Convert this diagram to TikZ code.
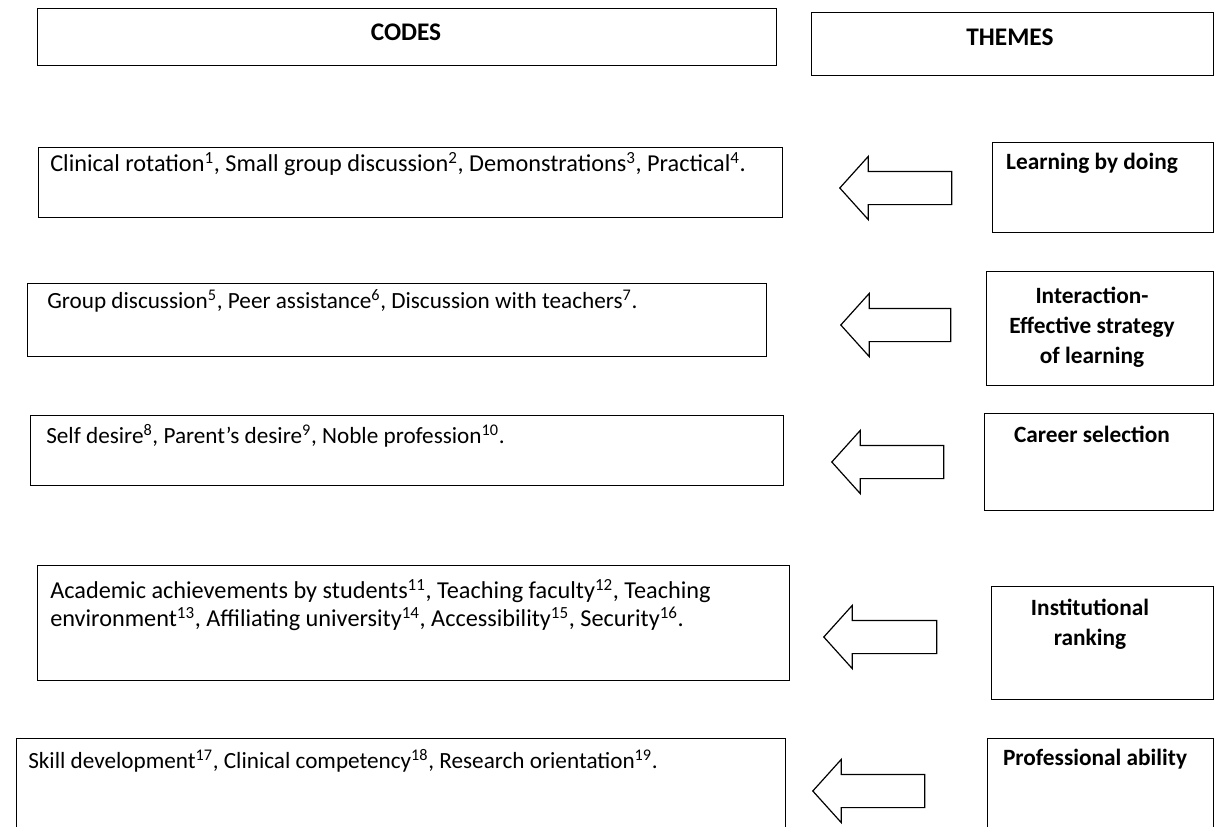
\documentclass[tikz,border=0pt]{standalone}
\usepackage{fontspec}
\setmainfont{Carlito}
\usetikzlibrary{shapes.arrows,positioning}
\newdimen\pxu
\pxu=0.75pt
\tikzset{
    box/.style ={
        draw=black,
        line width=0.9pt,
        anchor=north west,
        inner sep=0pt
    },
    codetext/.style ={
        anchor=west,
        align=left,
        inner sep=0pt,
        font=\fontsize{18.2}{21}\selectfont
    },
    smallcode/.style ={
        codetext,
        font=\fontsize{17.4}{21}\selectfont
    },
    themetext/.style ={
        align=center,
        inner sep=0pt,
        font=\fontsize{17.5}{22.5}\selectfont\bfseries
    },
    headtext/.style ={
        inner sep=0pt,
        font=\fontsize{19}{23}\selectfont\bfseries
    },
    leftarrow/.style ={
        shape=single arrow,
        draw=black,
        line width=0.9pt,
        shape border rotate=180,
        anchor=tip,
        inner xsep=0pt,
        inner ysep=16\pxu,
        single arrow head extend=15\pxu,
        single arrow tip angle=96
    }
}

\begin{document}
\begin{tikzpicture}[x=1\pxu,y=-1\pxu]
    \useasboundingbox (0,0) rectangle (1214,826);
    % headers
    \node[box, minimum width=739\pxu, minimum height=57\pxu] (codes) at (37,8) {};
    \node[headtext] (codeslbl) at (406,32) {CODES};
    \node[box, minimum width=402\pxu, minimum height=63\pxu] (themes) at (811,12) {};
    \node[headtext] (themeslbl) at (1010,37) {THEMES};
    % codes
    \node[box, minimum width=744\pxu, minimum height=70\pxu] (c1) at (38,147) {};
    \node[codetext] (c1t) at (50,164) {Clinical rotation\textsuperscript{1}, Small group discussion\textsuperscript{2}, Demonstrations\textsuperscript{3}, Practical\textsuperscript{4}.};
    \node[box, minimum width=739\pxu, minimum height=73\pxu] (c2) at (27,283) {};
    \node[smallcode] (c2t) at (47,301) {Group discussion\textsuperscript{5}, Peer assistance\textsuperscript{6}, Discussion with teachers\textsuperscript{7}.};
    \node[box, minimum width=753\pxu, minimum height=70\pxu] (c3) at (30,415) {};
    \node[smallcode] (c3t) at (46,436) {Self desire\textsuperscript{8}, Parent’s desire\textsuperscript{9}, Noble profession\textsuperscript{10}.};
    \node[box, minimum width=752\pxu, minimum height=115\pxu] (c4) at (37,565) {};
    \node[codetext] (c4t) at (50,605) {Academic achievements by students\textsuperscript{11}, Teaching faculty\textsuperscript{12}, Teaching\\environment\textsuperscript{13}, Affiliating university\textsuperscript{14}, Accessibility\textsuperscript{15}, Security\textsuperscript{16}.};
    \node[box, minimum width=769\pxu, minimum height=110\pxu] (c5) at (16,738) {};
    \node[smallcode] (c5t) at (28,761) {Skill development\textsuperscript{17}, Clinical competency\textsuperscript{18}, Research orientation\textsuperscript{19}.};
    % arrows
    \node[leftarrow, minimum height=112\pxu] (a1) at (839,188) {};
    \node[leftarrow, minimum height=110\pxu] (a2) at (840,325) {};
    \node[leftarrow, minimum height=112\pxu] (a3) at (831,462) {};
    \node[leftarrow, minimum height=113\pxu] (a4) at (823,637) {};
    \node[leftarrow, minimum height=112\pxu] (a5) at (812,791) {};
    % themes
    \node[box, minimum width=221\pxu, minimum height=90\pxu] (t1) at (992,142) {};
    \node[themetext] (t1t) at (1092,163) {Learning by doing};
    \node[box, minimum width=227\pxu, minimum height=114\pxu] (t2) at (986,271) {};
    \node[themetext] (t2t) at (1092,327) {Interaction-\\Effective strategy\\of learning};
    \node[box, minimum width=229\pxu, minimum height=97\pxu] (t3) at (984,413) {};
    \node[themetext] (t3t) at (1092,434) {Career selection};
    \node[box, minimum width=222\pxu, minimum height=113\pxu] (t4) at (991,586) {};
    \node[themetext] (t4t) at (1090,624) {Institutional\\ranking};
    \node[box, minimum width=226\pxu, minimum height=110\pxu] (t5) at (987,738) {};
    \node[themetext] (t5t) at (1095,759) {Professional ability};
\end{tikzpicture}
\end{document}
